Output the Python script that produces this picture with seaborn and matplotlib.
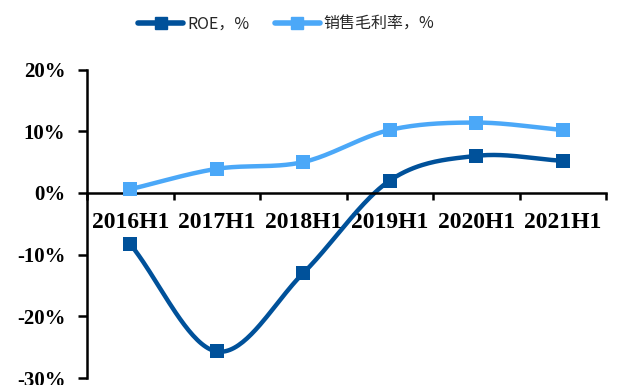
import numpy as np
import pandas as pd
import matplotlib
matplotlib.use("Agg")
import matplotlib.pyplot as plt
import seaborn as sns
from matplotlib.ticker import FuncFormatter

periods = ["2016H1", "2017H1", "2018H1", "2019H1", "2020H1", "2021H1"]
roe = [-8.3, -25.7, -13.0, 2.0, 6.0, 5.2]
gross_margin = [0.6, 3.9, 5.0, 10.2, 11.4, 10.2]
series_names = ["ROE，%", "销售毛利率，%"]
colors = ["#00519A", "#4BA8F8"]


def smooth(xs, ys, n=40):
    """Catmull-Rom curve through the points, like a smoothed line chart."""
    xs = np.asarray(xs, float)
    ys = np.asarray(ys, float)
    px = np.concatenate([[2 * xs[0] - xs[1]], xs, [2 * xs[-1] - xs[-2]]])
    py = np.concatenate([[2 * ys[0] - ys[1]], ys, [2 * ys[-1] - ys[-2]]])
    out_x, out_y = [], []
    for i in range(1, len(px) - 2):
        t = np.linspace(0, 1, n, endpoint=(i == len(px) - 3))
        for arr, out in ((px, out_x), (py, out_y)):
            p0, p1, p2, p3 = arr[i - 1], arr[i], arr[i + 1], arr[i + 2]
            out.extend(0.5 * ((2 * p1) + (-p0 + p2) * t
                              + (2 * p0 - 5 * p1 + 4 * p2 - p3) * t ** 2
                              + (-p0 + 3 * p1 - 3 * p2 + p3) * t ** 3))
    return np.array(out_x), np.array(out_y)


sns.set_theme(style="white")
plt.rcParams["font.family"] = ["Liberation Serif", "DejaVu Sans"]

fig = plt.figure(figsize=(6.42, 3.85), dpi=100)
ax = fig.add_axes([87 / 642, 1 - 378 / 385, (606 - 87) / 642, (378 - 69.5) / 385])

xpos = np.arange(len(periods))
for name, vals, c in zip(series_names, [roe, gross_margin], colors):
    sx, sy = smooth(xpos, vals)
    curve = pd.DataFrame({"x": sx, "y": sy})
    sns.lineplot(data=curve, x="x", y="y", ax=ax, color=c, linewidth=3.2,
                 sort=False, estimator=None)
    pts = pd.DataFrame({"x": xpos, "y": vals})
    sns.scatterplot(data=pts, x="x", y="y", ax=ax, color=c, marker="s",
                    s=105, linewidth=0, zorder=5)

ax.set_xlim(-0.5, len(periods) - 0.5)
ax.set_ylim(-30, 20)
ax.set_yticks([-30, -20, -10, 0, 10, 20])
ax.yaxis.set_major_formatter(FuncFormatter(lambda v, _: f"{v:.0f}%"))
ax.set_xticks(xpos)
ax.set_xticklabels(periods)
ax.set_xticks(np.arange(len(periods) + 1) - 0.5, minor=True)
ax.set_xlabel("")
ax.set_ylabel("")

for s in ["top", "right"]:
    ax.spines[s].set_visible(False)
ax.spines["bottom"].set_position(("data", 0))
for s in ["left", "bottom"]:
    ax.spines[s].set_color("black")
    ax.spines[s].set_linewidth(1.8)

ax.tick_params(axis="y", which="major", direction="out", length=6.5, width=1.8,
               color="black", left=True, labelsize=15, pad=9)
ax.tick_params(axis="x", which="major", length=0, labelsize=17, pad=14)
ax.tick_params(axis="x", which="minor", direction="out", length=5, width=1.8,
               color="black", bottom=True)
for lab in ax.get_xticklabels() + ax.get_yticklabels():
    lab.set_fontweight("bold")
    lab.set_color("black")

handles = [plt.Line2D([0], [0], color=c, linewidth=4, marker="s", markersize=8,
                      solid_capstyle="round") for c in colors]
fig.legend(handles, series_names, loc="center", bbox_to_anchor=(0.446, 0.938),
           ncol=2, frameon=False, handlelength=2.8, columnspacing=1.6,
           handletextpad=0.25,
           prop={"family": ["Noto Sans CJK SC", "DejaVu Sans"], "size": 11.5})

fig.savefig("out.png", dpi=100)
